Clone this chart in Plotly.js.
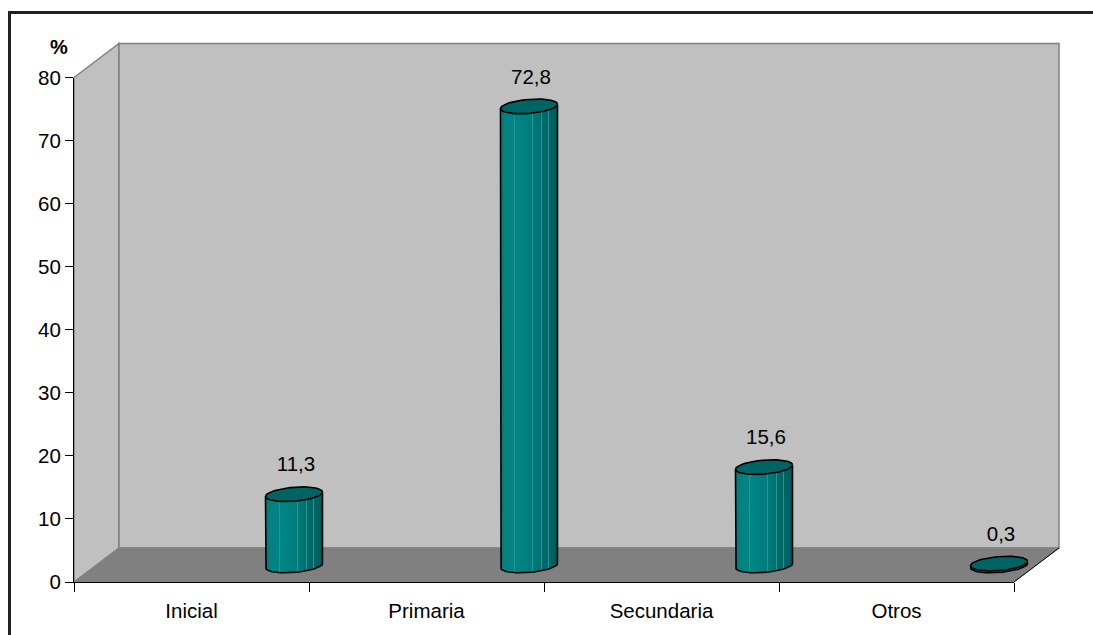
<!DOCTYPE html>
<html><head><meta charset="utf-8">
<script src="https://cdn.plot.ly/plotly-3.0.1.min.js"></script>
<style>html,body{margin:0;padding:0;background:#fff}#c{width:1093px;height:635px}</style>
</head><body><div id="c"></div>
<script>
const categories = ["Inicial", "Primaria", "Secundaria", "Otros"];
const values = [11.3, 72.8, 15.6, 0.3];
const valueLabels = ["11,3", "72,8", "15,6", "0,3"];
const yTicks = [0, 10, 20, 30, 40, 50, 60, 70, 80];

// Layout geometry, in page pixels
const W = 1093, H = 635, L = 74, R = 1070, T = 20, B = 582;
const AXW = 940, AXH = 504.5, DX = 45, DY = 34, MID = 16.5;
const PXU = AXH / 80, PXC = AXW / 4;
const px = p => (p - L) / (R - L), py = p => (B - p) / (B - T);

// Cylinder look
const BAR_SHIFT = 102.5 / PXC, HALF = 28.5, ELL_B = 7, ELL_K = 2.2;
const stripeColors = ["#0b7a7a","#078080","#038484","#008585","#008484","#008282","#008080","#007e7e",
                      "#007a7a","#007575","#007070","#006a6a","#006666","#006262","#005c5c"];
const highlights = [-0.5, 0.12, 0.45, 0.68];

const traces = [];
const font = {family: '"Liberation Sans", Arial, sans-serif', size: 20.5, color: '#000'};

traces.push({type:'scatter', x:categories, y:values, mode:'markers', marker:{opacity:0}, xaxis:'x', yaxis:'y', hoverinfo:'skip', showlegend:false});

const xs = values.map((_, i) => i + BAR_SHIFT);
const lowerAt = u => (-ELL_B * Math.sqrt(Math.max(0, 1 - u * u)) + ELL_K * u) / PXU;

function strip(u0, u1, color) {
  const u = (u0 + u1) / 2, w = (u1 - u0) * HALF / PXC;
  const base = xs.map(() => lowerAt(u));
  traces.push({type:'bar', x:xs.map(x => x + u * HALF / PXC), y:values.map((v, i) => v - base[i]), base:base, width:w, xaxis:'x2', yaxis:'y2',
    marker:{color:color, line:{width:0}}, hoverinfo:'skip', showlegend:false});
}
const n = stripeColors.length;
stripeColors.forEach((c, k) => strip(-1 + 2 * k / n, -1 + 2 * (k + 1) / n, c));
highlights.forEach(u => strip(u - 0.018, u + 0.018, "#2a9494"));

function ring(i, from, to, top) {
  const X = [], Y = [];
  for (let a = from; a <= to + 1e-6; a += 0.1) {
    X.push(xs[i] + Math.cos(a) * HALF / PXC);
    Y.push(top + (ELL_B * Math.sin(a) + ELL_K * Math.cos(a)) / PXU);
  }
  return [X, Y];
}
values.forEach((v, i) => {
  const [bx, by] = ring(i, Math.PI, 2 * Math.PI, 0);
  const [tx, ty] = ring(i, 0, 2 * Math.PI, v);
  const edgeL = lowerAt(-1), edgeR = lowerAt(1);
  traces.push({type:'scatter', mode:'lines', xaxis:'x2', yaxis:'y2', hoverinfo:'skip', showlegend:false,
    x:[xs[i] - HALF / PXC, ...bx, xs[i] + HALF / PXC],
    y:[v + edgeL, ...by, v + edgeR],
    line:{color:'#000', width:1.6}});
  traces.push({type:'scatter', mode:'lines', fill:'toself', fillcolor:'#006464', xaxis:'x2', yaxis:'y2', hoverinfo:'skip', showlegend:false,
    x:tx, y:ty, line:{color:'#000', width:1.6}});
});

traces.push({type:'scatter', mode:'text', xaxis:'x2', yaxis:'y2', hoverinfo:'skip', showlegend:false, cliponaxis:false,
  x:xs.map(x => x + 2 / PXC), y:values.map(v => v + 28 / PXU), text:valueLabels, textposition:'middle center', textfont:font});

const poly = pts => 'M' + pts.map(p => px(p[0]) + ',' + py(p[1])).join('L') + 'Z';
const wallLine = {color:'#808080', width:1.5};
const shapes = [
  {type:'path', xref:'paper', yref:'paper', layer:'below', path:poly([[L,B],[L+DX,B-DY],[L+DX,B-AXH-DY],[L,B-AXH]]), fillcolor:'#c0c0c0', line:wallLine},
  {type:'path', xref:'paper', yref:'paper', layer:'below', path:poly([[L+DX,B-DY],[L+DX+AXW,B-DY],[L+DX+AXW,B-AXH-DY],[L+DX,B-AXH-DY]]), fillcolor:'#c0c0c0', line:wallLine},
  {type:'path', xref:'paper', yref:'paper', layer:'below', path:poly([[L,B],[L+DX,B-DY],[L+DX+AXW,B-DY],[L+AXW,B]]), fillcolor:'#808080', line:{color:'#808080', width:1}},
  {type:'line', xref:'paper', yref:'paper', layer:'below', x0:px(9.5), x1:px(9.5), y0:py(11), y1:py(H), line:{color:'#222', width:3}},
  {type:'line', xref:'paper', yref:'paper', layer:'below', x0:px(8), x1:px(W), y0:py(12.5), y1:py(12.5), line:{color:'#222', width:3}},
  {type:'line', xref:'paper', yref:'paper', layer:'above', x0:px(L+AXW), x1:px(L+AXW+DX), y0:py(B), y1:py(B-DY), line:{color:'#000', width:1}}
];

const layout = {
  width:W, height:H, margin:{l:L, r:W-R, t:T, b:H-B, pad:0},
  paper_bgcolor:'#fff', plot_bgcolor:'rgba(0,0,0,0)', showlegend:false, barmode:'overlay', bargap:0,
  font:font, shapes:shapes,
  xaxis:{type:'category', domain:[0, AXW/(R-L)], anchor:'y', range:[-0.5, 3.5], categoryorder:'array', categoryarray:categories,
    tickmode:'array', tickvals:categories, ticktext:categories, tickson:'boundaries', ticks:'outside', ticklen:9, tickwidth:1, tickcolor:'#000',
    showline:true, linecolor:'#000', linewidth:1, showgrid:false, zeroline:false, tickfont:font, automargin:false, ticklabelstandoff:10},
  yaxis:{domain:[0, AXH/(B-T)], anchor:'x', range:[0, 80], tickmode:'array', tickvals:yTicks, ticks:'outside', ticklen:8, tickwidth:1, tickcolor:'#000',
    showline:true, linecolor:'#000', linewidth:1, showgrid:false, zeroline:false, tickfont:font, automargin:false},
  xaxis2:{domain:[0, 1], anchor:'y2', range:[-0.5, -0.5 + (R-L)/PXC], visible:false, fixedrange:true},
  yaxis2:{domain:[0, (AXH+MID)/(B-T)], anchor:'x2', range:[-MID/PXU, 80], visible:false, fixedrange:true},
  annotations:[{xref:'paper', yref:'paper', x:px(59), y:py(47), text:'<b>%</b>', showarrow:false, xanchor:'center', yanchor:'middle',
    font:{family:font.family, size:20, color:'#000'}}]
};
Plotly.newPlot('c', traces, layout, {staticPlot:true, displayModeBar:false});
</script></body></html>
